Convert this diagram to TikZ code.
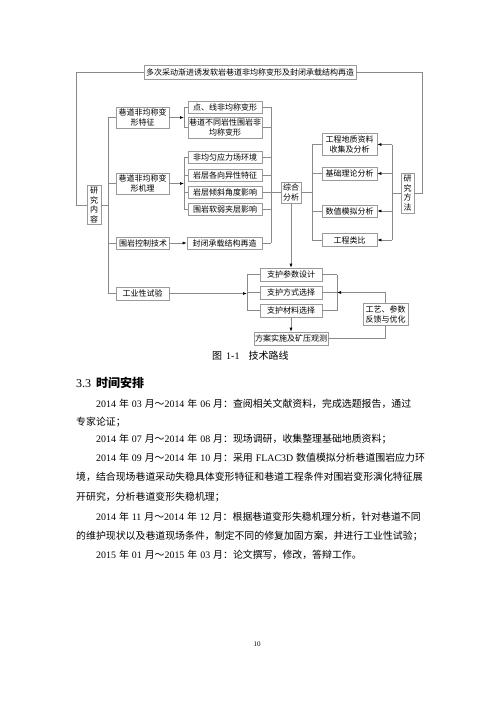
\documentclass[tikz,border=0pt]{standalone}
\usepackage{fontspec}
\setmainfont{Noto Sans CJK SC}
\newfontfamily\tnr{Liberation Serif}
\usetikzlibrary{arrows.meta}
\newcommand\myL[1]{{\tnr #1}}
\newcommand\dgf{\fontsize{8}{10}\selectfont}
\newcommand\vtf{\fontsize{8}{9.5}\selectfont}
\newcommand\bdf{\fontsize{9.9}{12}\selectfont\spaceskip=3pt\relax\XeTeXinterchartokenstate=1\relax}
\XeTeXinterchartoks 1 1 = {\hskip 0pt plus 1pt\relax}
\XeTeXinterchartoks 1 2 = {\hskip 0pt plus 1pt\relax}
\XeTeXinterchartoks 1 3 = {\hskip 0pt plus 1pt\relax}
\XeTeXinterchartoks 2 1 = {\hskip 0pt plus 1pt\relax}
\XeTeXinterchartoks 3 1 = {\hskip 0pt plus 1pt\relax}
\XeTeXinterchartoks 3 2 = {\hskip 0pt plus 1pt\relax}
\XeTeXinterchartoks 3 3 = {\hskip 0pt plus 1pt\relax}
\newcommand\jline[2]{\hbox to #1{#2}}
\definecolor{bordc}{HTML}{9A9A9A}
\definecolor{linec}{HTML}{8A8A8A}
\tikzset{
  bx/.style={draw=bordc, line width=0.6pt, inner sep=0pt, align=center, font=\dgf, fill=white},
  ln/.style={draw=linec, line width=0.6pt},
  ar/.style={ln, -{Latex[length=4pt,width=3pt,color=black]}},
  tx/.style={anchor=base west, inner sep=0pt, font=\bdf},
}
\begin{document}
\begin{tikzpicture}[x=1pt,y=-1pt]
\useasboundingbox[fill=white] (0,0) rectangle (500,707);
% boxes
\node[bx, minimum width=212pt, minimum height=14pt] (title) at (250,72) {多次采动渐进诱发软岩巷道非均称变形及封闭承载结构再造};
\node[bx, font=\vtf, minimum width=14pt, minimum height=39pt] (nr) at (94,205) {研\\究\\内\\容};
\node[bx, minimum width=53pt, minimum height=21pt] (tz) at (142.5,117.5) {巷道非均称变\\形特征};
\node[bx, minimum width=53pt, minimum height=21pt] (jl) at (142.5,183.5) {巷道非均称变\\形机理};
\node[bx, minimum width=53pt, minimum height=12pt] (kz) at (143,243) {围岩控制技术};
\node[bx, minimum width=53pt, minimum height=13pt] (gy) at (142.5,293.5) {工业性试验};
\node[bx, minimum width=74pt, minimum height=12pt] (d1) at (225,107) {点、线非均称变形};
\node[bx, minimum width=74pt, minimum height=21pt] (d2) at (225,127.5) {巷道不同岩性围岩非\\均称变形};
\node[bx, minimum width=74pt, minimum height=12pt] (e1) at (225,157.5) {非均匀应力场环境};
\node[bx, minimum width=74pt, minimum height=12pt] (e2) at (225,175) {岩层各向异性特征};
\node[bx, minimum width=74pt, minimum height=12pt] (e3) at (225,192.5) {岩层倾斜角度影响};
\node[bx, minimum width=74pt, minimum height=12pt] (e4) at (225,209) {围岩软弱夹层影响};
\node[bx, minimum width=75pt, minimum height=12pt] (f1) at (224.5,243) {封闭承载结构再造};
\node[bx, minimum width=20pt, minimum height=21pt] (zh) at (291,192.5) {综合\\分析};
\node[bx, minimum width=55pt, minimum height=22pt] (g1) at (349.5,144.5) {工程地质资料\\收集及分析};
\node[bx, minimum width=55pt, minimum height=13pt] (g2) at (349.5,173.5) {基础理论分析};
\node[bx, minimum width=55pt, minimum height=12pt] (g3) at (349.5,211) {数值模拟分析};
\node[bx, minimum width=55pt, minimum height=13pt] (g4) at (349.5,240) {工程类比};
\node[bx, font=\vtf, minimum width=13pt, minimum height=40pt] (ff) at (407.5,193) {研\\究\\方\\法};
\node[bx, minimum width=62pt, minimum height=13pt] (h1) at (291,274.5) {支护参数设计};
\node[bx, minimum width=62pt, minimum height=13pt] (h2) at (291,292.5) {支护方式选择};
\node[bx, minimum width=62pt, minimum height=13pt] (h3) at (291,310.5) {支护材料选择};
\node[bx, minimum width=74pt, minimum height=13pt] (fa) at (291,338.5) {方案实施及矿压观测};
\node[bx, minimum width=45pt, minimum height=22pt] (gk) at (385.5,314) {工艺、参数\\反馈与优化};
% bracket coordinates
\coordinate (t1) at (108,117.5);
\coordinate (t4) at (108,293.5);
\coordinate (b1) at (184,0);
\coordinate (b2) at (271,0);
\coordinate (b3) at (312,0);
\coordinate (b4) at (392,0);
\coordinate (b5) at (247,0);
\coordinate (b6) at (337,0);
% outer loop
\draw[ln] (title.west) -- ++(-67,0) |- (nr.west);
\draw[ln] (title.east) -- ++(66,0) |- (ff.east);
% trunk
\draw[ln] (nr.east) -- (nr.east -| t1);
\draw[ln] (t1) -- (t4);
\draw[ln] (t1) -- (tz.west);
\draw[ln] (jl.west -| t1) -- (jl.west);
\draw[ln] (kz.west -| t1) -- (kz.west);
\draw[ln] (t4) -- (gy.west);
% bracket 1
\draw[ar] (tz.east) -- (tz.east -| b1);
\draw[ln] (d1.west -| b1) -- (d2.west -| b1);
\draw[ln] (d1.west -| b1) -- (d1.west);
\draw[ln] (d2.west -| b1) -- (d2.west);
\draw[ar] (jl.east) -- (jl.east -| b1);
\draw[ln] (e1.west -| b1) -- (e4.west -| b1);
\foreach \n in {e1,e2,e3,e4} \draw[ln] (\n.west -| b1) -- (\n.west);
\draw[ar] (kz.east) -- (f1.west);
% bracket 2
\foreach \n in {d1,d2,e1,e2,e3,e4,f1} \draw[ln] (\n.east) -- (\n.east -| b2);
\draw[ln] (d1.east -| b2) -- (f1.east -| b2);
\draw[ln] (zh.west -| b2) -- (zh.west);
% bracket 3
\draw[ln] (zh.east) -- (zh.east -| b3);
\draw[ln] (g1.west -| b3) -- (g4.west -| b3);
\foreach \n in {g1,g2,g3,g4} \draw[ln] (\n.west -| b3) -- (\n.west);
% bracket 4
\draw[ln] (ff.west) -- (ff.west -| b4);
\draw[ln] (g1.east -| b4) -- (g4.east -| b4);
\foreach \n in {g1,g2,g3,g4} \draw[ar] (\n.east -| b4) -- (\n.east);
% lower part
\draw[ar] (zh.south) -- (h1.north);
\draw[ar] (gy.east) -- (gy.east -| b5);
\draw[ln] (h1.west -| b5) -- (h3.west -| b5);
\foreach \n in {h1,h2,h3} \draw[ln] (\n.west -| b5) -- (\n.west);
\foreach \n in {h1,h2,h3} \draw[ln] (\n.east) -- (\n.east -| b6);
\draw[ln] (h1.east -| b6) -- (h3.east -| b6);
\draw[ar] (gk.north) |- (h2.east -| b6);
\draw[ar] (h3.south) -- (fa.north);
\draw[ln] (fa.east) -| (gk.south);
% caption
\node[anchor=base west, inner sep=0pt, font=\fontsize{10}{12}\selectfont] (cap) at (212,359.8) {图\hspace{4pt}\myL{1-1}\hspace{9pt}技术路线};
% heading
\node[anchor=base west, inner sep=0pt, font=\fontsize{12}{14}\selectfont] (hd) at (76,387.5) {\myL{3.3}\hspace{5pt}{\bfseries 时间安排}};
% body text
\node[tx] (l1) at (96,407.8) {\jline{325pt}{\myL{2014} 年 \myL{03} 月～\myL{2014} 年 \myL{06} 月：查阅相关文献资料，完成选题报告，通过}};
\node[tx] (l2) at (76,425.8) {专家论证；};
\node[tx] (l3) at (96,442.8) {\myL{2014} 年 \myL{07} 月～\myL{2014} 年 \myL{08} 月：现场调研，收集整理基础地质资料；};
\node[tx] (l4) at (96,461.8) {\jline{327pt}{\myL{2014} 年 \myL{09} 月～\myL{2014} 年 \myL{10} 月：采用 \myL{FLAC3D} 数值模拟分析巷道围岩应力环}};
\node[tx] (l5) at (76,480.8) {\jline{347pt}{境，结合现场巷道采动失稳具体变形特征和巷道工程条件对围岩变形演化特征展}};
\node[tx] (l6) at (76,500.8) {开研究，分析巷道变形失稳机理；};
\node[tx] (l7) at (96,520.8) {\jline{327pt}{\myL{2014} 年 \myL{11} 月～\myL{2014} 年 \myL{12} 月：根据巷道变形失稳机理分析，针对巷道不同}};
\node[tx] (l8) at (76,539.8) {\jline{347pt}{的维护现状以及巷道现场条件，制定不同的修复加固方案，并进行工业性试验；}};
\node[tx] (l9) at (96,558.8) {\myL{2015} 年 \myL{01} 月～\myL{2015} 年 \myL{03} 月：论文撰写，修改，答辩工作。};
% page number
\node[inner sep=0pt, font=\fontsize{7}{8}\selectfont\tnr] (pg) at (257,644) {10};
\end{tikzpicture}
\end{document}
